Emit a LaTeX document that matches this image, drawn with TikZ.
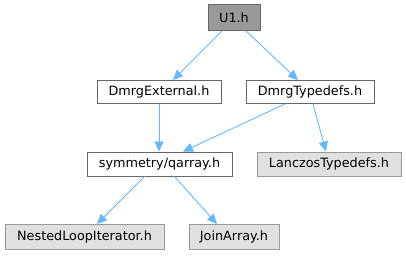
\documentclass[tikz,border=0pt]{standalone}
\usepackage{fontspec}
\setmainfont{DejaVu Sans}
\usetikzlibrary{arrows.meta}
\definecolor{edgeblue}{HTML}{63B8FF}
\definecolor{darkborder}{HTML}{666666}
\definecolor{lightborder}{HTML}{999999}
\definecolor{mainfill}{HTML}{999999}
\definecolor{extfill}{HTML}{E0E0E0}
\begin{document}
\begin{tikzpicture}[x=1pt,y=-1pt,
  filebox/.style={draw=darkborder, line width=0.9pt, fill=white, inner sep=0pt,
    minimum height=23pt, font=\fontsize{12.8}{14}\selectfont},
  mainbox/.style={filebox, fill=mainfill},
  extbox/.style={filebox, draw=lightborder, fill=extfill},
  incl/.style={draw=edgeblue, line width=0.9pt,
    -{Triangle[length=10pt,width=9pt]}, shorten >=0pt}]
\useasboundingbox (0,0) rectangle (406,256);

% files
\node[mainbox, minimum width=52pt, minimum height=26pt] (u1)   at (234,17.5) {U1.h};
\node[filebox, minimum width=124pt] (ext)  at (159,92)  {DmrgExternal.h};
\node[filebox, minimum width=128pt] (typ)  at (310,92)  {DmrgTypedefs.h};
\node[filebox, minimum width=145pt, minimum height=24pt] (qarr) at (159.5,164) {symmetry/qarray.h};
\node[extbox,  minimum width=144pt, minimum height=24pt] (lan)  at (329,164) {LanczosTypedefs.h};
\node[extbox,  minimum width=159pt, minimum height=25pt] (nest) at (84.5,237) {NestedLoopIterator.h};
\node[extbox,  minimum width=90pt,  minimum height=25pt] (join) at (234,237) {JoinArray.h};

% include dependencies
\draw[incl] ([xshift=-12pt]u1.south) -- ([xshift=14pt]ext.north);
\draw[incl] ([xshift=12pt]u1.south) -- ([xshift=-12pt]typ.north);
\draw[incl] (ext.south) -- (qarr.north -| ext.south);
\draw[incl] ([xshift=-25pt]typ.south) -- ([xshift=23.5pt]qarr.north);
\draw[incl] ([xshift=3pt]typ.south) -- ([xshift=-3pt]lan.north);
\draw[incl] ([xshift=-15pt]qarr.south) -- ([xshift=12.5pt]nest.north);
\draw[incl] ([xshift=15pt]qarr.south) -- ([xshift=-17pt]join.north);
\end{tikzpicture}
\end{document}
